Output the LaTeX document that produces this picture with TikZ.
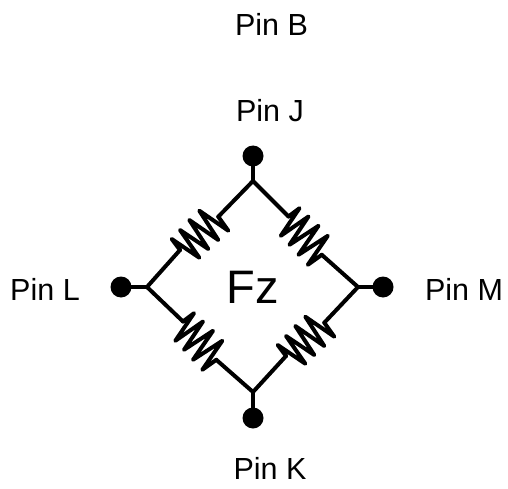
\documentclass[tikz,border=0pt]{standalone}
\usepackage{fontspec}
\setmainfont{Liberation Sans}
\tikzset{
  x=1pt,y=1pt,
  wire/.style={line width=4pt,line cap=round,line join=round,black},
  pin/.style={circle,fill=black,inner sep=0pt,minimum size=21pt},
  joint/.style={inner sep=0pt,minimum size=0pt},
  lbl/.style={inner sep=0pt,font=\fontsize{30.5}{33}\selectfont,text=black},
  resistor/.pic={
    \coordinate (-a) at (-18,-16);
    \coordinate (-b) at (20.3,17.3);
    \draw[wire] (-a) -- (-26.3,-5) -- (1.3,-23.7) -- (-18,4) -- (10.3,-15) -- (-8.7,14) -- (20.3,-6) -- (1.3,23.3) -- (30.3,3.3) -- (-b);
  }
}
\begin{document}
\begin{tikzpicture}
\useasboundingbox (0,0) rectangle (508,-489);
\node[pin] (pj) at (253,-156) {};
\node[pin] (pl) at (121,-287) {};
\node[pin] (pm) at (383,-287) {};
\node[pin] (pk) at (253,-418) {};
\node[joint] (t) at (253,-181) {};
\node[joint] (l) at (147,-287) {};
\node[joint] (r) at (358,-287) {};
\node[joint] (b) at (253,-392) {};
\pic (r1) at (198,-234) {resistor};
\pic[rotate=-90] (r2) at (304.5,-234.5) {resistor};
\pic[rotate=-90] (r3) at (199,-339.5) {resistor};
\pic (r4) at (304,-340) {resistor};
\draw[wire] (pj) -- (t);
\draw[wire] (pl) -- (l);
\draw[wire] (pm) -- (r);
\draw[wire] (pk) -- (b);
\draw[wire] (l) -- (r1-a);
\draw[wire] (r1-b) -- (t);
\draw[wire] (t) -- (r2-a);
\draw[wire] (r2-b) -- (r);
\draw[wire] (l) -- (r3-a);
\draw[wire] (r3-b) -- (b);
\draw[wire] (b) -- (r4-a);
\draw[wire] (r4-b) -- (r);
\node[lbl] (nb) at (271.5,-24) {Pin B};
\node[lbl] (nj) at (270,-111) {Pin J};
\node[lbl] (nl) at (45,-289.5) {Pin L};
\node[lbl] (nm) at (464,-289.5) {Pin M};
\node[lbl] (nk) at (270,-468) {Pin K};
\node[inner sep=0pt,font=\fontsize{47}{50}\selectfont] (fz) at (253,-287) {Fz};
\end{tikzpicture}
\end{document}
